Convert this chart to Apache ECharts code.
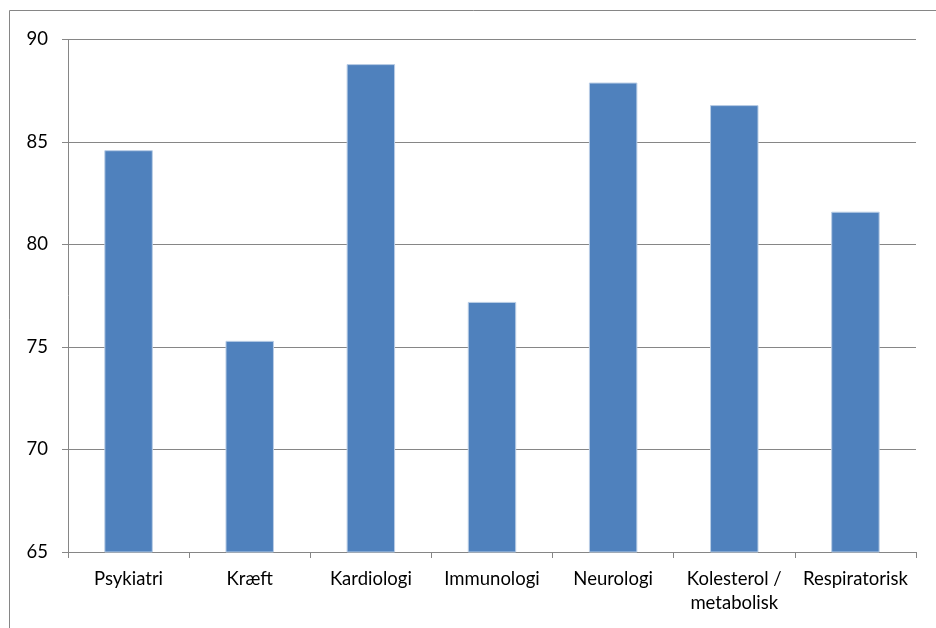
<!DOCTYPE html>
<html>
<head>
<meta charset="utf-8">
<script src="https://cdn.jsdelivr.net/npm/echarts@6/dist/echarts.min.js"></script>
<style>
  html, body { margin: 0; padding: 0; background: #fff; }
  #chart { width: 936px; height: 628px; }
</style>
</head>
<body>
<div id="chart"></div>
<script>
// Therapeutic areas and their scores
const categories = ['Psykiatri', 'Kræft', 'Kardiologi', 'Immunologi', 'Neurologi', 'Kolesterol /\nmetabolisk', 'Respiratorisk'];
const values = [84.6, 75.3, 88.8, 77.2, 87.9, 86.8, 81.6];
const yMin = 65;
const yMax = 90;
const yStep = 5;

const axisGray = '#868686';
const fontFamily = 'Lato, "Open Sans", sans-serif';

const chart = echarts.init(document.getElementById('chart'), null, { renderer: 'canvas' });

chart.setOption({
  animation: false,
  backgroundColor: '#ffffff',
  graphic: [{
    type: 'rect',
    shape: { x: 9.5, y: 10.5, width: 1000, height: 700 },
    style: { fill: 'none', stroke: axisGray, lineWidth: 1 },
    silent: true
  }],
  grid: { left: 68, right: 20, top: 39.5, bottom: 76, containLabel: false },
  xAxis: {
    type: 'category',
    data: categories,
    axisLine: { show: true, lineStyle: { color: axisGray, width: 1 } },
    axisTick: { show: true, alignWithLabel: false, length: 6, lineStyle: { color: axisGray } },
    axisLabel: {
      color: '#000', fontFamily: fontFamily, fontSize: 18.5, margin: 15,
      interval: 0, lineHeight: 24
    },
    splitLine: { show: false }
  },
  yAxis: {
    type: 'value',
    min: yMin,
    max: yMax,
    interval: yStep,
    axisLine: { show: true, lineStyle: { color: axisGray, width: 1 } },
    axisTick: { show: true, length: 6, lineStyle: { color: axisGray } },
    axisLabel: { color: '#000', fontFamily: fontFamily, fontSize: 18.5, margin: 20 },
    splitLine: { show: true, lineStyle: { color: axisGray, width: 1 } }
  },
  series: [{
    type: 'bar',
    data: values,
    barWidth: '40%',
    itemStyle: { color: '#4F81BD', borderColor: '#B9CDE5', borderWidth: 1 }
  }]
});
</script>
</body>
</html>
